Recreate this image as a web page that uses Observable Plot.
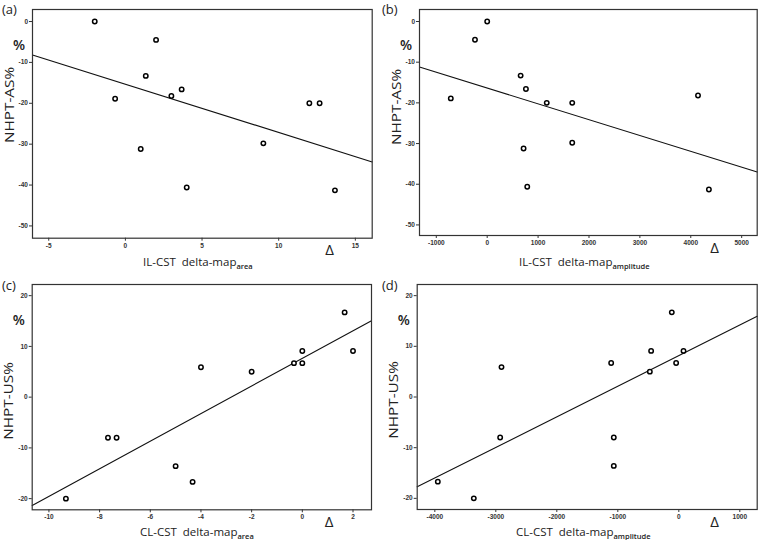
<!DOCTYPE html>
<html><head><meta charset="utf-8">
<script src="https://cdn.jsdelivr.net/npm/d3@7"></script>
<script src="https://cdn.jsdelivr.net/npm/@observablehq/plot@0.6"></script>
<style>
body{margin:0;background:#fff;}
#wrap{position:relative;width:760px;height:540px;overflow:hidden;background:#fff;}
#wrap svg{position:absolute;overflow:visible;}
</style></head><body><div id="wrap"></div>
<script>
// NHPT change (%) of the 12 patients
const nhptAS = [0, -4.5, -13.3, -18.9, -18.2, -16.6, -31.2, -40.6, -29.8, -20.0, -20.0, -41.3];
const ilArea = [-2.0, 2.0, 1.33, -0.67, 3.0, 3.67, 1.0, 4.0, 9.0, 12.0, 12.67, 13.67];
const ilAmp  = [0, -240, 657, -715, 4142, 761, 715, 787, 1671, 1170, 1671, 4356];
const nhptUS = [16.7, 9.1, 9.1, 6.7, 6.7, 5.9, 5.0, -8.0, -8.0, -13.6, -16.7, -20.0];
const clArea = [1.67, 0, 2.0, -0.33, 0, -4.0, -2.0, -7.67, -7.33, -5.0, -4.33, -9.33];
const clAmp  = [-115, -454, 77, -1109, -44, -2907, -475, -2929, -1066, -1066, -3951, -3361];

// tick labels
const ticksAS = [-50, -40, -30, -20, -10, 0];
const ticksUS = [-20, -10, 0, 10, 20];
const ticksIlArea = [-5, 0, 5, 10, 15];
const ticksIlAmp = [-1000, 0, 1000, 2000, 3000, 4000, 5000];
const ticksClArea = [-10, -8, -6, -4, -2, 0, 2];
const ticksClAmp = [-4000, -3000, -2000, -1000, 0, 1000];

// scale domains
const domIlArea = [-6.06, 16.1];
const domIlAmp = [-1330, 5305];
const domClArea = [-10.66, 2.73];
const domClAmp = [-4289, 1285];
const domAS = [-53.0, 2.94];
const domASb = [-52.6, 2.95];
const domUS = [-22.2, 22.2];

const panels = [
  {tag:"(a)", left:0, top:0, mL:32, mR:8.3, mT:9, mB:32.3, xs:ilArea, ys:nhptAS, xDom:domIlArea, yDom:domAS,
   xTicks:ticksIlArea, yTicks:ticksAS, yTitle:"NHPT-AS%", xTitle:"IL-CST  delta-map", xSub:"area",
   tagY:13.5, yTitleY:105, xTitleX:143},
  {tag:"(b)", left:380, top:0, mL:39, mR:3.3, mT:9, mB:35, xs:ilAmp, ys:nhptAS, xDom:domIlAmp, yDom:domASb,
   xTicks:ticksIlAmp, yTicks:ticksAS, yTitle:"NHPT-AS%", xTitle:"IL-CST  delta-map", xSub:"amplitude",
   tagY:13.5, yTitleY:107, xTitleX:139},
  {tag:"(c)", left:0, top:270, mL:31.7, mR:9, mT:14, mB:30.7, xs:clArea, ys:nhptUS, xDom:domClArea, yDom:domUS,
   xTicks:ticksClArea, yTicks:ticksUS, yTitle:"NHPT-US%", xTitle:"CL-CST  delta-map", xSub:"area",
   tagY:19.5, yTitleY:131, xTitleX:140},
  {tag:"(d)", left:380, top:270, mL:36.7, mR:3.3, mT:14, mB:31, xs:clAmp, ys:nhptUS, xDom:domClAmp, yDom:domUS,
   xTicks:ticksClAmp, yTicks:ticksUS, yTitle:"NHPT-US%", xTitle:"CL-CST  delta-map", xSub:"amplitude",
   tagY:19.5, yTitleY:130, xTitleX:136}
];

const W = 380, H = 270;
const wrap = document.getElementById("wrap");
const TF = "'Open Sans', 'DejaVu Sans', sans-serif";

for (const p of panels) {
  const mx = d3.mean(p.xs), my = d3.mean(p.ys);
  const slope = d3.sum(p.xs, (x, i) => (x - mx) * (p.ys[i] - my)) / d3.sum(p.xs, x => (x - mx) ** 2);
  const fit = x => my + slope * (x - mx);
  const pts = p.xs.map((x, i) => ({x, y: p.ys[i]}));
  const fitLine = p.xDom.map(x => ({x, y: fit(x)}));

  const chart = Plot.plot({
    width: W, height: H,
    marginLeft: p.mL, marginRight: p.mR, marginTop: p.mT, marginBottom: p.mB,
    style: {fontFamily: "'Liberation Sans', Arial, sans-serif", fontSize: "6.5px", fontWeight: "bold", color: "#333", background: "transparent"},
    x: {domain: p.xDom},
    y: {domain: p.yDom},
    marks: [
      Plot.axisX({ticks: p.xTicks, tickSize: 3, tickPadding: 2, tickFormat: d => String(d), label: null, stroke: "#333"}),
      Plot.axisY({ticks: p.yTicks, tickSize: 3, tickPadding: 1.5, tickFormat: d => String(d), label: null, stroke: "#333"}),
      Plot.line(fitLine, {x: "x", y: "y", stroke: "#111", strokeWidth: 1.1}),
      Plot.dot(pts, {x: "x", y: "y", r: 2.2, stroke: "#000", strokeWidth: 1.5, fill: "white"}),
      Plot.frame({stroke: "#333", strokeWidth: 1.2})
    ]
  });
  chart.style.left = p.left + "px";
  chart.style.top = p.top + "px";
  wrap.appendChild(chart);

  const svg = d3.select(chart);
  const fr = W - p.mR, fb = H - p.mB;
  // panel tag
  svg.append("text").attr("x", 2).attr("y", p.tagY).attr("text-anchor", "start")
    .attr("font-family", TF).attr("font-size", 13).attr("font-weight", "normal").attr("fill", "#222")
    .text(p.tag);
  // rotated y title
  svg.append("text").attr("transform", `translate(${p.mL - 23},${p.yTitleY}) rotate(-90) scale(1.18,1)`)
    .attr("text-anchor", "middle").attr("dy", "0.35em")
    .attr("font-family", TF).attr("font-size", 13).attr("font-weight", "normal").attr("fill", "#222")
    .text(p.yTitle);
  // % unit
  svg.append("text").attr("x", p.mL - 13).attr("y", p.mT + 36)
    .attr("text-anchor", "middle").attr("dy", "0.35em")
    .attr("font-family", TF).attr("font-size", 14).attr("font-weight", "600").attr("fill", "#222")
    .text("%");
  // delta
  svg.append("text").attr("x", fr - 42).attr("y", fb + 12.5)
    .attr("text-anchor", "middle").attr("dy", "0.35em")
    .attr("font-family", TF).attr("font-size", 15).attr("font-weight", "normal").attr("fill", "#222")
    .text("Δ");
  // x title with subscript
  const t = svg.append("text").attr("x", p.xTitleX).attr("y", 266).attr("text-anchor", "start")
    .attr("font-family", TF).attr("font-size", 11.5).attr("font-weight", "normal").attr("fill", "#222");
  t.append("tspan").style("white-space", "pre").text(p.xTitle);
  t.append("tspan").attr("font-size", 7.5).attr("font-weight", "600").attr("dy", 2.5).text(p.xSub);
}
</script>
</body></html>
